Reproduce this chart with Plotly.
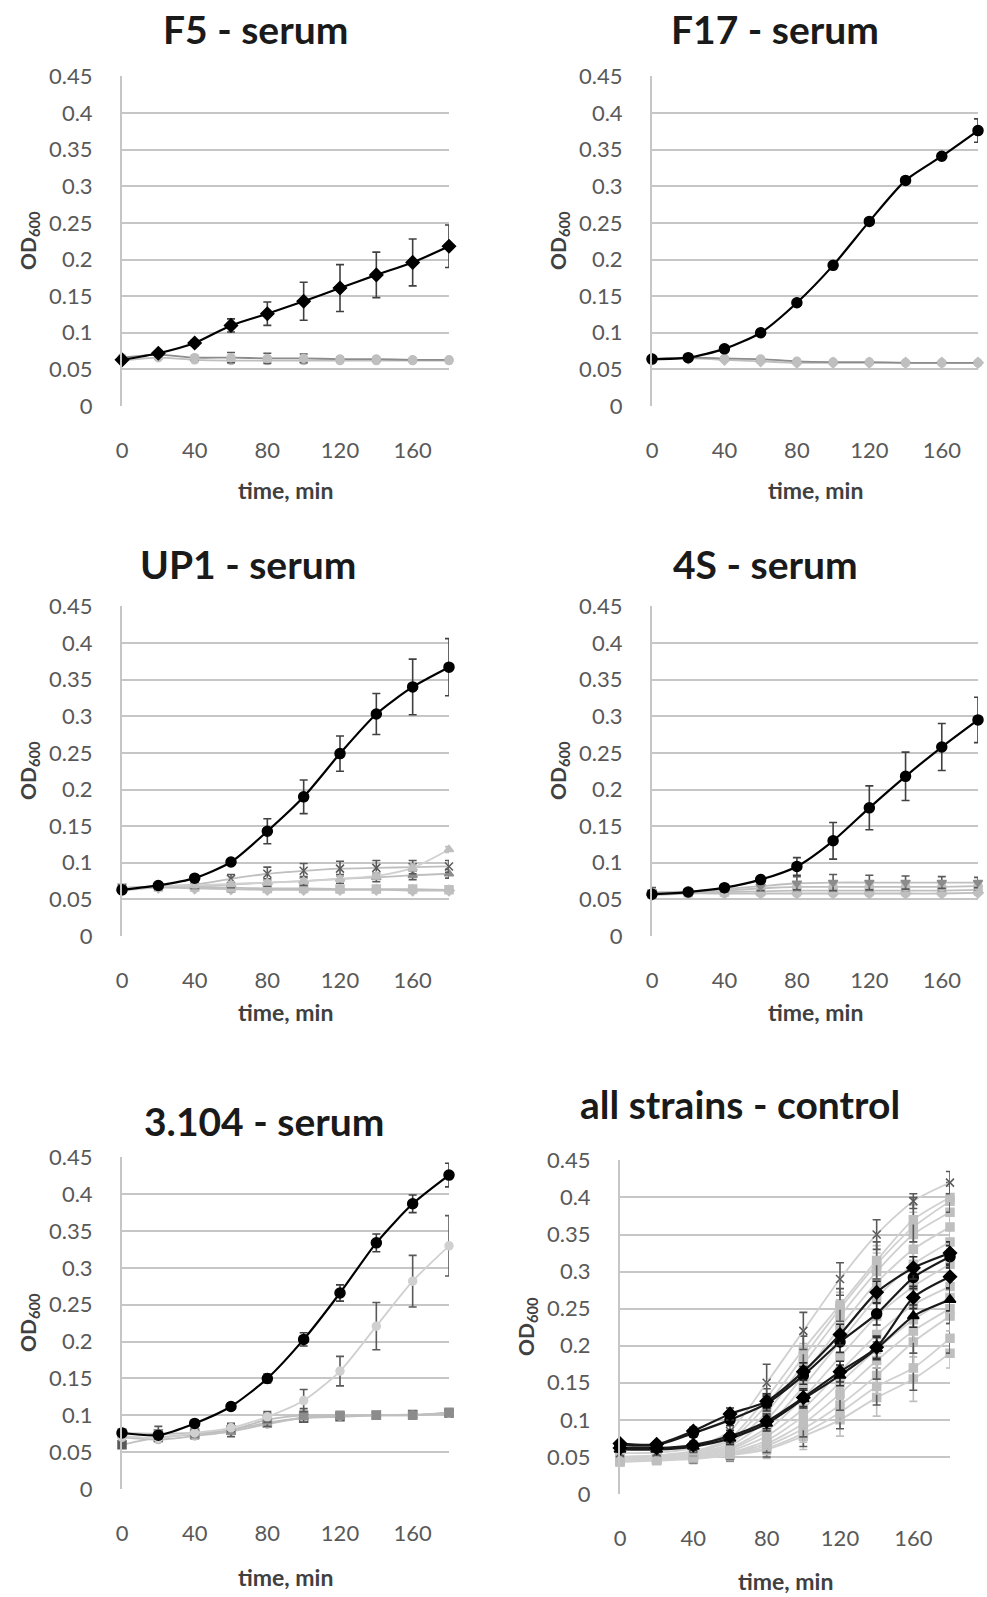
import plotly.graph_objects as go

# ---------------- data ----------------
time_min = [0, 20, 40, 60, 80, 100, 120, 140, 160, 180]
x_ticks = [0, 40, 80, 120, 160]
y_ticks = [0, 0.05, 0.1, 0.15, 0.2, 0.25, 0.3, 0.35, 0.4, 0.45]
y_tick_labels = ["0", "0.05", "0.1", "0.15", "0.2", "0.25", "0.3", "0.35", "0.4", "0.45"]

panel_titles = ["F5 - serum", "F17 - serum", "UP1 - serum", "4S - serum",
                "3.104 - serum", "all strains - control"]

# F5
f5_serum = [0.063, 0.072, 0.086, 0.110, 0.126, 0.143, 0.161, 0.179, 0.196, 0.218]
f5_serum_err = [0.002, 0.003, 0.004, 0.009, 0.016, 0.026, 0.032, 0.031, 0.032, 0.029]
f5_ctrl_a = [0.066, 0.070, 0.066, 0.066, 0.065, 0.065, 0.064, 0.064, 0.063, 0.063]
f5_ctrl_a_err = [0.002, 0.002, 0.003, 0.007, 0.007, 0.006, 0.003, 0.002, 0.002, 0.002]
f5_ctrl_b = [0.062, 0.066, 0.063, 0.062, 0.062, 0.062, 0.062, 0.062, 0.062, 0.062]
f5_ctrl_b_err = [0.002, 0.002, 0.002, 0.002, 0.002, 0.002, 0.002, 0.002, 0.002, 0.002]

# F17
f17_serum = [0.064, 0.066, 0.078, 0.100, 0.141, 0.192, 0.252, 0.308, 0.341, 0.376]
f17_serum_err = [0.001, 0.001, 0.002, 0.002, 0.003, 0.003, 0.003, 0.003, 0.003, 0.016]
f17_ctrl_a = [0.064, 0.066, 0.065, 0.064, 0.061, 0.060, 0.060, 0.059, 0.059, 0.059]
f17_ctrl_a_err = [0.001, 0.001, 0.002, 0.002, 0.002, 0.001, 0.001, 0.001, 0.001, 0.001]
f17_ctrl_b = [0.064, 0.065, 0.063, 0.061, 0.059, 0.059, 0.059, 0.059, 0.059, 0.059]
f17_ctrl_b_err = [0.001, 0.001, 0.001, 0.001, 0.001, 0.001, 0.001, 0.001, 0.001, 0.001]

# UP1
up1_serum = [0.063, 0.069, 0.079, 0.101, 0.143, 0.190, 0.249, 0.303, 0.340, 0.367]
up1_serum_err = [0.002, 0.002, 0.003, 0.004, 0.017, 0.023, 0.024, 0.028, 0.038, 0.039]
up1_a = [0.064, 0.068, 0.069, 0.071, 0.073, 0.075, 0.078, 0.082, 0.093, 0.118]
up1_a_err = [0.002, 0.002, 0.002, 0.003, 0.003, 0.003, 0.004, 0.004, 0.004, 0.004]
up1_b = [0.065, 0.068, 0.070, 0.078, 0.085, 0.089, 0.092, 0.093, 0.094, 0.095]
up1_b_err = [0.002, 0.002, 0.003, 0.006, 0.009, 0.010, 0.010, 0.010, 0.009, 0.008]
up1_c = [0.065, 0.068, 0.068, 0.070, 0.073, 0.075, 0.078, 0.080, 0.083, 0.085]
up1_c_err = [0.002, 0.002, 0.003, 0.004, 0.005, 0.006, 0.006, 0.006, 0.006, 0.006]
up1_d = [0.066, 0.067, 0.067, 0.066, 0.065, 0.065, 0.064, 0.064, 0.064, 0.063]
up1_d_err = [0.002, 0.002, 0.002, 0.006, 0.004, 0.004, 0.002, 0.002, 0.002, 0.002]
up1_e = [0.062, 0.066, 0.065, 0.064, 0.063, 0.063, 0.063, 0.063, 0.062, 0.062]
up1_e_err = [0.002, 0.002, 0.002, 0.002, 0.002, 0.002, 0.002, 0.002, 0.002, 0.002]

# 4S
s4_serum = [0.057, 0.060, 0.066, 0.077, 0.095, 0.130, 0.175, 0.218, 0.258, 0.295]
s4_serum_err = [0.002, 0.002, 0.002, 0.003, 0.012, 0.025, 0.030, 0.033, 0.032, 0.031]
s4_a = [0.060, 0.061, 0.064, 0.068, 0.072, 0.073, 0.073, 0.073, 0.073, 0.073]
s4_a_err = [0.006, 0.003, 0.004, 0.006, 0.009, 0.011, 0.010, 0.009, 0.008, 0.007]
s4_b = [0.058, 0.060, 0.062, 0.065, 0.067, 0.067, 0.067, 0.067, 0.067, 0.068]
s4_b_err = [0.002, 0.002, 0.003, 0.004, 0.005, 0.005, 0.005, 0.005, 0.005, 0.005]
s4_c = [0.057, 0.059, 0.060, 0.061, 0.062, 0.062, 0.062, 0.062, 0.062, 0.063]
s4_c_err = [0.002, 0.002, 0.003, 0.004, 0.005, 0.005, 0.005, 0.005, 0.005, 0.005]
s4_d = [0.056, 0.058, 0.058, 0.058, 0.058, 0.058, 0.058, 0.058, 0.058, 0.059]
s4_d_err = [0.002, 0.002, 0.002, 0.003, 0.003, 0.003, 0.003, 0.003, 0.003, 0.003]

# 3.104
p3104_serum = [0.076, 0.073, 0.089, 0.112, 0.150, 0.203, 0.266, 0.334, 0.387, 0.426]
p3104_serum_err = [0.003, 0.005, 0.004, 0.005, 0.006, 0.009, 0.011, 0.012, 0.012, 0.016]
p3104_a = [0.072, 0.069, 0.076, 0.083, 0.098, 0.120, 0.160, 0.221, 0.282, 0.330]
p3104_a_err = [0.003, 0.004, 0.004, 0.005, 0.007, 0.015, 0.020, 0.032, 0.035, 0.041]
p3104_b = [0.070, 0.067, 0.072, 0.078, 0.088, 0.097, 0.099, 0.100, 0.100, 0.103]
p3104_b_err = [0.003, 0.003, 0.004, 0.004, 0.004, 0.004, 0.003, 0.003, 0.003, 0.003]
p3104_c = [0.076, 0.075, 0.076, 0.080, 0.094, 0.100, 0.100, 0.100, 0.100, 0.104]
p3104_c_err = [0.003, 0.010, 0.006, 0.009, 0.009, 0.009, 0.003, 0.003, 0.003, 0.003]
p3104_d = [0.060, 0.070, 0.074, 0.080, 0.090, 0.096, 0.098, 0.100, 0.101, 0.103]
p3104_d_err = [0.002, 0.003, 0.003, 0.003, 0.003, 0.003, 0.003, 0.003, 0.003, 0.003]

# all strains - control (dark series)
ctl_dark_1 = [0.068, 0.067, 0.085, 0.108, 0.125, 0.165, 0.215, 0.272, 0.305, 0.325]
ctl_dark_2 = [0.066, 0.066, 0.082, 0.100, 0.122, 0.160, 0.205, 0.243, 0.292, 0.320]
ctl_dark_3 = [0.062, 0.062, 0.066, 0.078, 0.098, 0.130, 0.165, 0.198, 0.265, 0.293]
ctl_dark_4 = [0.060, 0.060, 0.064, 0.075, 0.095, 0.128, 0.160, 0.196, 0.240, 0.262]
ctl_dark_err = [0.003, 0.003, 0.005, 0.008, 0.010, 0.012, 0.014, 0.015, 0.015, 0.015]
# all strains - control (light series)
ctl_light_1 = [0.055, 0.056, 0.062, 0.085, 0.150, 0.220, 0.290, 0.350, 0.395, 0.420]
ctl_light_2 = [0.050, 0.052, 0.058, 0.075, 0.130, 0.195, 0.255, 0.315, 0.370, 0.400]
ctl_light_3 = [0.050, 0.052, 0.056, 0.072, 0.120, 0.185, 0.250, 0.310, 0.360, 0.395]
ctl_light_4 = [0.048, 0.050, 0.055, 0.068, 0.110, 0.175, 0.240, 0.300, 0.350, 0.380]
ctl_light_5 = [0.048, 0.050, 0.054, 0.065, 0.100, 0.160, 0.225, 0.285, 0.330, 0.360]
ctl_light_6 = [0.047, 0.049, 0.053, 0.062, 0.090, 0.145, 0.205, 0.265, 0.310, 0.340]
ctl_light_7 = [0.046, 0.048, 0.052, 0.060, 0.085, 0.130, 0.185, 0.240, 0.280, 0.310]
ctl_light_8 = [0.046, 0.048, 0.051, 0.058, 0.078, 0.115, 0.165, 0.215, 0.255, 0.280]
ctl_light_9 = [0.045, 0.047, 0.050, 0.056, 0.072, 0.105, 0.150, 0.195, 0.235, 0.265]
ctl_light_10 = [0.045, 0.047, 0.050, 0.055, 0.068, 0.095, 0.135, 0.180, 0.220, 0.250]
ctl_light_11 = [0.044, 0.046, 0.049, 0.054, 0.065, 0.088, 0.120, 0.160, 0.205, 0.240]
ctl_light_12 = [0.044, 0.046, 0.048, 0.053, 0.062, 0.082, 0.110, 0.145, 0.170, 0.210]
ctl_light_13 = [0.043, 0.045, 0.047, 0.052, 0.060, 0.078, 0.100, 0.130, 0.155, 0.190]
ctl_light_err_big = [0.003, 0.004, 0.006, 0.012, 0.025, 0.025, 0.022, 0.020, 0.010, 0.015]
ctl_light_err = [0.003, 0.004, 0.006, 0.008, 0.012, 0.018, 0.022, 0.025, 0.030, 0.020]

# ---------------- styles ----------------
BLACK = "#000000"
DARK = "#595959"
MID = "#8c8c8c"
LIGHT = "#bfbfbf"
PALE = "#d0d0d0"
GRID = "#c6c6c6"
TICK = "#595959"
FONT = "Lato"

# (values, errors, line colour, marker symbol, marker colour, error colour)
panels = [
    [(f5_ctrl_b, f5_ctrl_b_err, LIGHT, "circle", LIGHT, LIGHT),
     (f5_ctrl_a, f5_ctrl_a_err, MID, "circle", LIGHT, DARK),
     (f5_serum, f5_serum_err, BLACK, "diamond", BLACK, "#404040")],
    [(f17_ctrl_b, f17_ctrl_b_err, LIGHT, "diamond", LIGHT, LIGHT),
     (f17_ctrl_a, f17_ctrl_a_err, MID, "circle", LIGHT, MID),
     (f17_serum, f17_serum_err, BLACK, "circle", BLACK, "#404040")],
    [(up1_e, up1_e_err, LIGHT, "diamond", LIGHT, LIGHT),
     (up1_d, up1_d_err, LIGHT, "square", LIGHT, MID),
     (up1_c, up1_c_err, LIGHT, "triangle-up", MID, DARK),
     (up1_b, up1_b_err, LIGHT, "x-thin-open", DARK, DARK),
     (up1_a, up1_a_err, PALE, "triangle-up", LIGHT, LIGHT),
     (up1_serum, up1_serum_err, BLACK, "circle", BLACK, "#404040")],
    [(s4_d, s4_d_err, LIGHT, "diamond", LIGHT, LIGHT),
     (s4_c, s4_c_err, LIGHT, "square", LIGHT, LIGHT),
     (s4_b, s4_b_err, LIGHT, "circle", LIGHT, MID),
     (s4_a, s4_a_err, LIGHT, "triangle-down", MID, DARK),
     (s4_serum, s4_serum_err, BLACK, "circle", BLACK, "#404040")],
    [(p3104_d, p3104_d_err, LIGHT, "square", DARK, MID),
     (p3104_b, p3104_b_err, LIGHT, "circle", LIGHT, MID),
     (p3104_c, p3104_c_err, LIGHT, "square", MID, DARK),
     (p3104_a, p3104_a_err, PALE, "circle", PALE, DARK),
     (p3104_serum, p3104_serum_err, BLACK, "circle", BLACK, "#404040")],
    [(ctl_light_13, ctl_light_err, PALE, "square", LIGHT, LIGHT),
     (ctl_light_12, ctl_light_err, PALE, "square", LIGHT, DARK),
     (ctl_light_11, ctl_light_err, PALE, "square", LIGHT, LIGHT),
     (ctl_light_10, ctl_light_err, PALE, "square", LIGHT, DARK),
     (ctl_light_9, ctl_light_err, PALE, "square", LIGHT, LIGHT),
     (ctl_light_8, ctl_light_err, PALE, "square", LIGHT, LIGHT),
     (ctl_light_7, ctl_light_err, PALE, "square", LIGHT, LIGHT),
     (ctl_light_6, ctl_light_err, PALE, "square", LIGHT, LIGHT),
     (ctl_light_5, ctl_light_err, PALE, "square", LIGHT, LIGHT),
     (ctl_light_4, ctl_light_err, PALE, "square", LIGHT, LIGHT),
     (ctl_light_3, ctl_light_err, PALE, "square", LIGHT, LIGHT),
     (ctl_light_2, ctl_light_err, PALE, "square", LIGHT, DARK),
     (ctl_light_1, ctl_light_err_big, PALE, "x-thin-open", DARK, DARK),
     (ctl_dark_4, ctl_dark_err, "#1a1a1a", "triangle-up", BLACK, "#303030"),
     (ctl_dark_3, ctl_dark_err, "#1a1a1a", "diamond", BLACK, "#303030"),
     (ctl_dark_2, ctl_dark_err, "#1a1a1a", "circle", BLACK, "#303030"),
     (ctl_dark_1, ctl_dark_err, "#1a1a1a", "diamond", BLACK, "#303030")],
]

W, H = 987, 1597
# plot-area boxes in pixels: (left, right, top, bottom)
boxes = [
    (122, 449, 76, 406), (652, 978, 76, 406),
    (122, 449, 606, 936), (652, 978, 606, 936),
    (122, 449, 1157, 1489), (620, 950, 1160, 1494),
]
title_pos = [(255, 29), (775, 29), (248, 564), (765, 564), (264, 1121), (740, 1104)]
xtitle_y = [490, 490, 1012, 1012, 1577, 1581]

fig = go.Figure()
annotations = []
layout = {}
for i, (series, box, ttl, tpos, xty) in enumerate(zip(panels, boxes, panel_titles, title_pos, xtitle_y)):
    n = i + 1
    xa = "x" if n == 1 else f"x{n}"
    ya = "y" if n == 1 else f"y{n}"
    left, right, top, bottom = box
    for vals, errs, lcol, sym, mcol, ecol in series:
        dark = lcol in (BLACK, "#1a1a1a")
        fig.add_trace(go.Scatter(
            x=time_min, y=vals, xaxis=xa, yaxis=ya, mode="lines+markers",
            line=dict(color=lcol, width=2.2 if dark else 1.8, shape="spline", smoothing=0.7),
            marker=dict(symbol=sym, size=10 if dark else 8, color=mcol,
                        line=dict(color=mcol, width=1.5)),
            error_y=dict(type="data", array=errs, visible=True, color=ecol,
                         thickness=1.6, width=4),
            cliponaxis=False, showlegend=False, hoverinfo="skip"))
    layout[f"xaxis{'' if n == 1 else n}"] = dict(
        domain=[left / W, right / W], anchor=ya, range=[0, 180], automargin=False,
        tickvals=x_ticks, ticks="", showgrid=False, zeroline=False,
        showline=False, ticklabelstandoff=29,
        tickfont=dict(family=FONT, size=22, color=TICK))
    layout[f"yaxis{'' if n == 1 else n}"] = dict(
        domain=[1 - bottom / H, 1 - top / H], anchor=xa, range=[0, 0.4505], automargin=False,
        tickvals=y_ticks, ticktext=y_tick_labels, ticks="", showgrid=True,
        gridcolor=GRID, gridwidth=2, zeroline=False, showline=True,
        linecolor=GRID, linewidth=2, ticklabelstandoff=23,
        tickfont=dict(family=FONT, size=22, color=TICK))
    # panel title
    annotations.append(dict(text=f"<b>{ttl}</b>", x=tpos[0] / W, y=1 - tpos[1] / H,
                            xref="paper", yref="paper", showarrow=False,
                            xanchor="center", yanchor="middle",
                            font=dict(family=FONT, size=39, color="#1a1a1a")))
    # x axis title
    annotations.append(dict(text="<b>time, min</b>", x=(left + right) / 2 / W,
                            y=1 - xty / H, xref="paper", yref="paper",
                            showarrow=False, xanchor="center", yanchor="middle",
                            font=dict(family=FONT, size=23, color="#404040")))
    # y axis title
    annotations.append(dict(text="<b>OD<sub>600</sub></b>", x=(left - 93) / W,
                            y=1 - ((top + bottom) / 2) / H, xref="paper", yref="paper",
                            showarrow=False, xanchor="center", yanchor="middle",
                            textangle=-90,
                            font=dict(family=FONT, size=21, color="#404040")))

fig.update_layout(width=W, height=H, margin=dict(l=0, r=0, t=0, b=0, pad=0),
                  paper_bgcolor="white", plot_bgcolor="white",
                  annotations=annotations, **layout)

pin_page = ("var d=document.getElementById('{plot_id}');"
            "d.style.position='fixed';d.style.left='0px';d.style.top='0px';"
            "document.body.style.margin='0';document.body.style.padding='0';"
            "document.documentElement.style.overflow='hidden';"
            "document.body.style.overflow='hidden';")
fig.write_html("out.html", post_script=pin_page,
               config={"displayModeBar": False, "staticPlot": True})
